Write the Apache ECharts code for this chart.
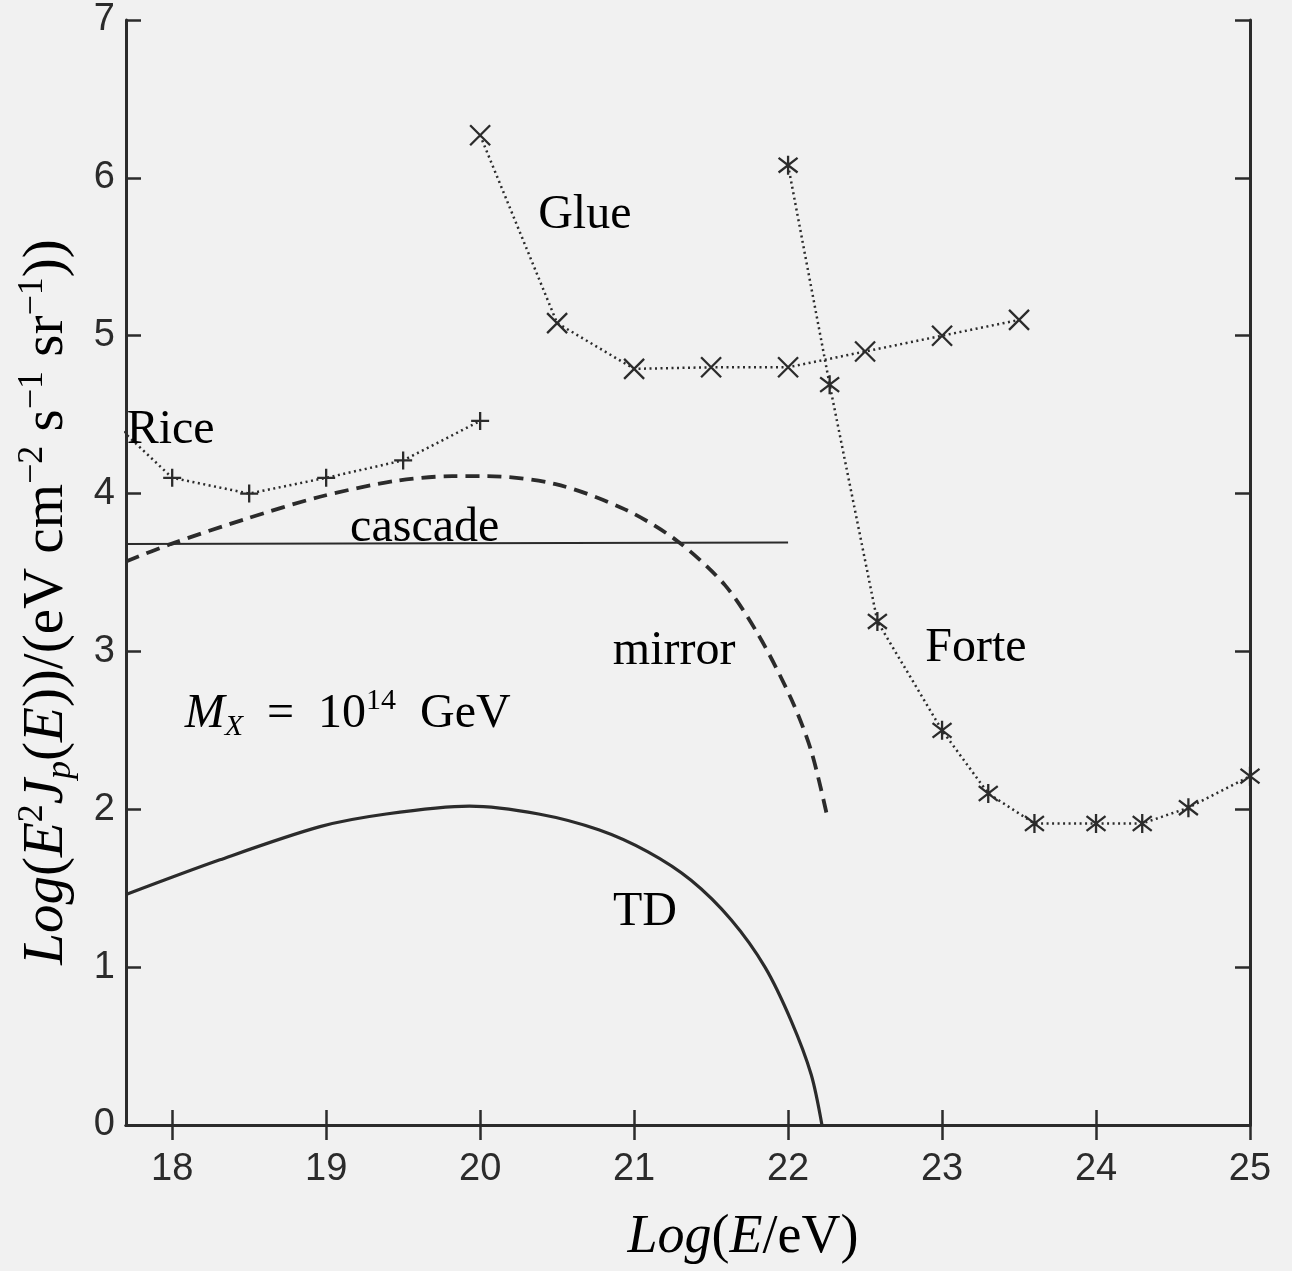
<!DOCTYPE html>
<html><head><meta charset="utf-8">
<script src="https://cdn.jsdelivr.net/npm/echarts@6/dist/echarts.min.js"></script>
<style>html,body{margin:0;padding:0;background:#f1f1f1}#c{width:1292px;height:1271px}</style>
</head><body><div id="c"></div>
<script>
// ---- data ----
const xTicks = [18, 19, 20, 21, 22, 23, 24, 25];
const yTicks = [0, 1, 2, 3, 4, 5, 6, 7];

const riceX = [17.5, 18, 18.5, 19, 19.5, 20];
const riceY = [4.56, 4.10, 4.0, 4.10, 4.21, 4.46];

const glueX = [20, 20.5, 21, 21.5, 22, 22.5, 23, 23.5];
const glueY = [6.27, 5.08, 4.79, 4.80, 4.80, 4.90, 5.00, 5.10];

const forteX = [22, 22.27, 22.58, 23, 23.3, 23.6, 24, 24.3, 24.6, 25];
const forteY = [6.08, 4.69, 3.19, 2.50, 2.10, 1.91, 1.91, 1.91, 2.01, 2.21];

const cascadeX = [17.7, 22];
const cascadeY = [3.68, 3.69];

const mirrorX = [17.7, 17.99, 18.48, 18.96, 19.45, 19.82, 20.04, 20.49, 20.94, 21.28, 21.59, 21.81, 22.02, 22.15, 22.26];
const mirrorY = [3.57, 3.68, 3.84, 3.98, 4.08, 4.11, 4.11, 4.06, 3.90, 3.70, 3.42, 3.10, 2.70, 2.37, 1.93];

const tdX = [17.7, 18.31, 18.96, 19.39, 19.93, 20.38, 20.77, 21.09, 21.37, 21.63, 21.85, 22.02, 22.15, 22.22];
const tdY = [1.46, 1.68, 1.89, 1.97, 2.02, 1.97, 1.87, 1.73, 1.55, 1.30, 1.00, 0.66, 0.32, 0.0];

const annotations = [
  {text: '{r|Rice}', x: 17.99, y: 4.40},
  {text: '{r|Glue}', x: 20.68, y: 5.76},
  {text: '{r|cascade}', x: 19.64, y: 3.78},
  {text: '{r|mirror}', x: 21.26, y: 3.00},
  {text: '{r|Forte}', x: 23.22, y: 3.02},
  {text: '{i|M}{sub|X}{r|  =  10}{sup|14}{r|  GeV}', x: 19.14, y: 2.60},
  {text: '{r|TD}', x: 21.07, y: 1.35}
];

// ---- helpers ----
const pairs = (xs, ys) => xs.map((x, i) => [x, ys[i]]);
const INK = '#2b2b2b';
const SERIF = '"Liberation Serif", "DejaVu Serif", serif';
const SANS = '"Liberation Sans Narrow", "Liberation Sans", Arial, sans-serif';

const richStyles = {
  r: {fontFamily: SERIF, fontSize: 48, color: INK, lineHeight: 56},
  i: {fontFamily: SERIF, fontSize: 48, fontStyle: 'italic', color: INK, lineHeight: 56},
  sup: {fontFamily: SERIF, fontSize: 30, color: INK, verticalAlign: 'top', lineHeight: 30},
  sub: {fontFamily: SERIF, fontSize: 30, fontStyle: 'italic', color: INK, verticalAlign: 'bottom', lineHeight: 30}
};
const yTitleStyles = {
  r: {fontFamily: SERIF, fontSize: 57, color: INK, lineHeight: 64},
  i: {fontFamily: SERIF, fontSize: 57, fontStyle: 'italic', color: INK, lineHeight: 64},
  sup: {fontFamily: SERIF, fontSize: 36, color: INK, verticalAlign: 'top', lineHeight: 36},
  sub: {fontFamily: SERIF, fontSize: 36, fontStyle: 'italic', color: INK, verticalAlign: 'bottom', lineHeight: 36}
};
const xTitleStyles = {
  r: {fontFamily: SERIF, fontSize: 54, color: INK, lineHeight: 62},
  i: {fontFamily: SERIF, fontSize: 54, fontStyle: 'italic', color: INK, lineHeight: 62}
};

const plusPath = 'path://M5,0L5,10M0,5L10,5';
const crossPath = 'path://M0,0L10,10M10,0L0,10';
const starPath = 'path://M0,0L10,10M10,0L0,10M5,-1.5L5,11.5';

const markerStyle = {color: 'rgba(0,0,0,0)', borderColor: INK, borderWidth: 2.3};
const dotted = {color: INK, width: 2.5, type: [2, 3.5]};

const chart = echarts.init(document.getElementById('c'), null, {renderer: 'canvas'});

const tickStyle = {color: INK, width: 2.5};
const option = {
  backgroundColor: '#f1f1f1',
  animation: false,
  grid: {left: 126, right: 42, top: 20, bottom: 146, containLabel: false},
  xAxis: [
    {type: 'value', min: 17.7, max: 25, position: 'bottom',
     axisLine: {show: true, lineStyle: {color: INK, width: 3}},
     axisTick: {show: true, inside: true, length: 15, customValues: xTicks, lineStyle: tickStyle},
     axisLabel: {show: true, customValues: xTicks, margin: 26, fontFamily: SANS, fontSize: 38, color: INK},
     splitLine: {show: false}},
    {type: 'value', min: 17.7, max: 25, position: 'top',
     axisLine: {show: true, lineStyle: {color: INK, width: 3}},
     axisTick: {show: true, inside: true, length: 15, customValues: xTicks, lineStyle: tickStyle},
     axisLabel: {show: false}, splitLine: {show: false}}
  ],
  yAxis: [
    {type: 'value', min: 0, max: 7, interval: 1, position: 'left',
     axisLine: {show: true, lineStyle: {color: INK, width: 3}},
     axisTick: {show: true, inside: true, length: 15, customValues: yTicks, lineStyle: tickStyle},
     axisLabel: {show: true, customValues: yTicks, margin: 11, fontFamily: SANS, fontSize: 38, color: INK},
     splitLine: {show: false}},
    {type: 'value', min: 0, max: 7, interval: 1, position: 'right',
     axisLine: {show: true, lineStyle: {color: INK, width: 3}},
     axisTick: {show: true, inside: true, length: 15, customValues: yTicks, lineStyle: tickStyle},
     axisLabel: {show: false}, splitLine: {show: false}}
  ],
  series: [
    {name: 'TD', type: 'line', data: pairs(tdX, tdY), smooth: 0.3, showSymbol: false,
     lineStyle: {color: INK, width: 3.2}, clip: true, z: 3},
    {name: 'mirror', type: 'line', data: pairs(mirrorX, mirrorY), smooth: 0.3, showSymbol: false,
     lineStyle: {color: INK, width: 3.8, type: [14, 8]}, clip: true, z: 3},
    {name: 'cascade', type: 'line', data: pairs(cascadeX, cascadeY), showSymbol: false,
     lineStyle: {color: INK, width: 2}, clip: true, z: 3},
    {name: 'Rice', type: 'line', data: pairs(riceX, riceY), symbol: plusPath, symbolSize: 18,
     itemStyle: markerStyle, lineStyle: dotted, clip: true, z: 4},
    {name: 'Glue', type: 'line', data: pairs(glueX, glueY), symbol: crossPath, symbolSize: 20,
     itemStyle: markerStyle, lineStyle: dotted, clip: true, z: 4},
    {name: 'Forte', type: 'line', data: pairs(forteX, forteY), symbol: starPath, symbolSize: 19,
     itemStyle: markerStyle, lineStyle: dotted, clip: false, z: 4}
  ]
};
chart.setOption(option);

const graphics = annotations.map(a => {
  const p = chart.convertToPixel({xAxisIndex: 0, yAxisIndex: 0}, [a.x, a.y]);
  return {type: 'text', x: p[0], y: p[1], z: 10,
    style: {text: a.text, rich: richStyles, align: 'center', verticalAlign: 'middle'}};
});

// axis titles
graphics.push({
  type: 'text', x: 47, y: 602, rotation: Math.PI / 2, z: 10,
  style: {
    text: '{i|Log}{r|(}{i|E}{sup|2}{i|J}{sub|p}{r|(}{i|E}{r|))/(eV cm}{sup|−2}{r| s}{sup|−1}{r| sr}{sup|−1}{r|))}',
    rich: yTitleStyles, align: 'center', verticalAlign: 'middle'
  }
});
graphics.push({
  type: 'text', x: 743, y: 1238, z: 10,
  style: {
    text: '{i|Log}{r|(}{i|E}{r|/eV)}',
    rich: xTitleStyles, align: 'center', verticalAlign: 'middle'
  }
});
chart.setOption({graphic: graphics});
</script>
</body></html>
